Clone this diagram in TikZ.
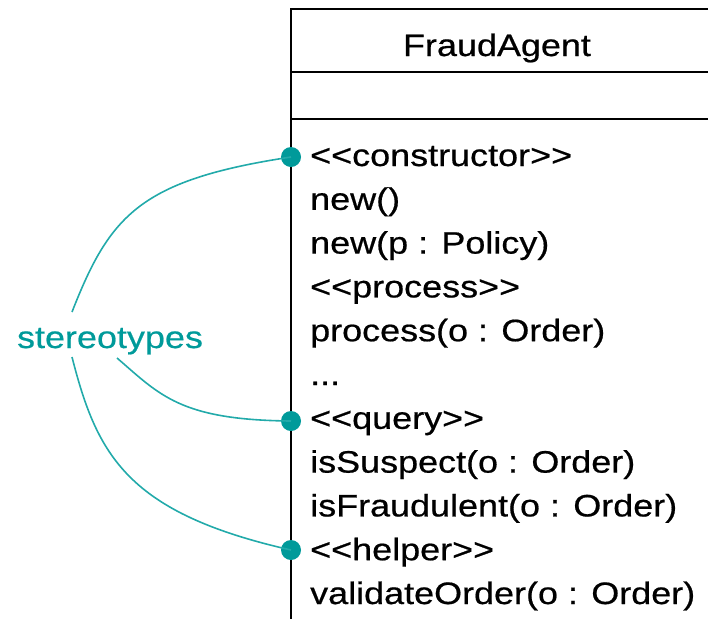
\documentclass[tikz,border=0pt]{standalone}
\usepackage{fontspec}
\setmainfont[FakeStretch=1.16,FakeBold=0.6]{Liberation Sans}
\definecolor{teal1}{HTML}{009A9A}
\definecolor{teal2}{HTML}{22AAAA}
\begin{document}
\begin{tikzpicture}[x=1pt,y=-1pt,
  member/.style={anchor=base west,inner sep=0pt,font=\fontsize{31}{36}\selectfont},
  title/.style={anchor=base,inner sep=0pt,font=\fontsize{31}{36}\selectfont},
  note/.style={anchor=base,inner sep=0pt,text=teal1,font=\fontsize{31}{36}\selectfont},
  link/.style={teal2,line width=1.6pt},
  pin/.style={circle,fill=teal1,inner sep=0pt,minimum size=20pt}]
\useasboundingbox (0,0) rectangle (708,619);

% class box (open on the right and at the bottom)
\draw[line width=1.8pt] (708,9) -- (291,9) -- (291,619);
\draw[line width=1.8pt] (291,72) -- (708,72);
\draw[line width=1.8pt] (291,119) -- (708,119);

\node[title] (cls) at (497,56) {FraudAgent};

% operations
\node[member] (m1) at (310,166) {<{}<constructor>{}>};
\node[member] (m2) at (310,209.8) {new()};
\node[member] (m3) at (310,253.6) {new(p : Policy)};
\node[member] (m4) at (310,297.4) {<{}<process>{}>};
\node[member] (m5) at (310,341.2) {process(o : Order)};
\node[member] (m6) at (310,385) {...};
\node[member] (m7) at (310,428.8) {<{}<query>{}>};
\node[member] (m8) at (310,472.6) {isSuspect(o : Order)};
\node[member] (m9) at (310,516.4) {isFraudulent(o : Order)};
\node[member] (m10) at (310,560.2) {<{}<helper>{}>};
\node[member] (m11) at (310,604) {validateOrder(o : Order)};

% stereotype markers
\node[pin] (p1) at (291,157) {};
\node[pin] (p2) at (291,421) {};
\node[pin] (p3) at (291,550) {};

\node[note] (st) at (110,348) {stereotypes};
\coordinate (s1) at (72,312);
\coordinate (s2) at (117,358);
\coordinate (s3) at (72,357);

\draw[link] (s1) .. controls (110,215) and (140,180) .. (p1.center);
\draw[link] (s2) .. controls (160,395) and (180,420) .. (p2.center);
\draw[link] (s3) .. controls (97,455) and (127,513) .. (p3.center);
\end{tikzpicture}
\end{document}
